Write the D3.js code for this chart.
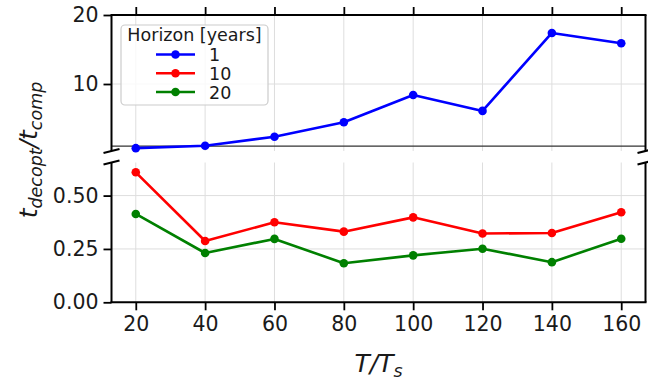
<!DOCTYPE html>
<html><head><meta charset="utf-8">
<script src="https://cdn.jsdelivr.net/npm/d3@7"></script>
<style>
html,body{margin:0;padding:0;background:#fff;}
svg{display:block;font-family:"DejaVu Sans",sans-serif;}
</style></head>
<body><svg id="c" width="648" height="385"></svg>
<script>
const categories = [20, 40, 60, 80, 100, 120, 140, 160];
const horizon1 = [0.7, 1.05, 2.35, 4.45, 8.4, 6.1, 17.4, 15.9];
const horizon10 = [0.609, 0.287, 0.375, 0.331, 0.398, 0.322, 0.325, 0.422];
const horizon20 = [0.414, 0.231, 0.297, 0.183, 0.220, 0.251, 0.188, 0.298];
const seriesNames = ["1", "10", "20"];
const seriesColors = ["#0000ff", "#ff0000", "#008000"];
const topTicks = [10, 20];
const bottomTicks = [0, 0.25, 0.5];
const xTicks = [20, 40, 60, 80, 100, 120, 140, 160];

const svg = d3.select("#c");
const L = 111.5, R = 645.5;
const topY0 = 15, topY1 = 151;
const botY0 = 162.5, botY1 = 302.3;

const x = d3.scaleLinear().domain([13, 167]).range([L, R]);
const yTop = d3.scaleLinear().domain([0.29, 20]).range([topY1, topY0]);
const yBot = d3.scaleLinear().domain([0, 0.655]).range([botY1, botY0]);

const gridColor = "#dedede";
const tickLen = 8;
const fs = 20.5;

// clip paths
const defs = svg.append("defs");
defs.append("clipPath").attr("id", "clipTop").append("rect")
  .attr("x", L).attr("y", topY0).attr("width", R - L).attr("height", topY1 - topY0);
defs.append("clipPath").attr("id", "clipBot").append("rect")
  .attr("x", L).attr("y", botY0).attr("width", R - L).attr("height", botY1 - botY0);

function panel(y, y0, y1, ticks, fmt, clip, showXLabels, showTopTicks) {
  const g = svg.append("g");
  // grid
  g.append("g").selectAll("line").data(xTicks).join("line")
    .attr("x1", d => x(d)).attr("x2", d => x(d)).attr("y1", y0).attr("y2", y1)
    .attr("stroke", gridColor).attr("stroke-width", 1);
  g.append("g").selectAll("line").data(ticks).join("line")
    .attr("x1", L).attr("x2", R).attr("y1", d => y(d)).attr("y2", d => y(d))
    .attr("stroke", gridColor).attr("stroke-width", 1);
  // y axis
  const ya = d3.axisLeft(y).tickValues(ticks).tickFormat(fmt).tickSize(tickLen).tickPadding(5);
  const yg = g.append("g").attr("transform", `translate(${L},0)`).call(ya);
  yg.select(".domain").remove();
  yg.selectAll(".tick line").attr("stroke", "#000").attr("stroke-width", 1.8);
  yg.selectAll(".tick text").attr("font-size", fs).attr("fill", "#1a1a1a").attr("font-family", "DejaVu Sans");
  // x axis
  if (showXLabels) {
    const xa = d3.axisBottom(x).tickValues(xTicks).tickFormat(d3.format("d")).tickSize(tickLen).tickPadding(6);
    const xg = g.append("g").attr("transform", `translate(0,${y1})`).call(xa);
    xg.select(".domain").remove();
    xg.selectAll(".tick line").attr("stroke", "#000").attr("stroke-width", 1.8);
    xg.selectAll(".tick text").attr("font-size", fs).attr("fill", "#1a1a1a").attr("font-family", "DejaVu Sans");
  }
  if (showTopTicks) {
    const xa = d3.axisTop(x).tickValues(xTicks).tickFormat("").tickSize(tickLen);
    const xg = g.append("g").attr("transform", `translate(0,${y0})`).call(xa);
    xg.select(".domain").remove();
    xg.selectAll(".tick line").attr("stroke", "#000").attr("stroke-width", 1.8);
  }
  return g;
}

const gTop = panel(yTop, topY0, topY1, topTicks, d3.format("d"), "clipTop", false, true);
const gBot = panel(yBot, botY0, botY1, bottomTicks, d3.format(".2f"), "clipBot", true, false);

// reference line at 1 in top panel
svg.append("line").attr("x1", L).attr("x2", R).attr("y1", yTop(1)).attr("y2", yTop(1))
  .attr("stroke", "#333").attr("stroke-width", 1.3);

function drawSeries(vals, y, color) {
  const line = d3.line().x((d, i) => x(categories[i])).y(d => y(d));
  svg.append("path").datum(vals).attr("d", line)
    .attr("fill", "none").attr("stroke", color).attr("stroke-width", 2.6)
    .attr("stroke-linejoin", "round");
  svg.append("g").selectAll("circle").data(vals).join("circle")
    .attr("cx", (d, i) => x(categories[i])).attr("cy", d => y(d))
    .attr("r", 4.3).attr("fill", color);
}
drawSeries(horizon1, yTop, seriesColors[0]);
drawSeries(horizon10, yBot, seriesColors[1]);
drawSeries(horizon20, yBot, seriesColors[2]);

// spines
const sp = svg.append("g").attr("stroke", "#000").attr("stroke-width", 2).attr("fill", "none");
sp.append("line").attr("x1", L).attr("x2", R).attr("y1", topY0).attr("y2", topY0).attr("stroke-linecap", "square");
sp.append("line").attr("x1", L).attr("x2", L).attr("y1", topY0).attr("y2", topY1);
sp.append("line").attr("x1", R).attr("x2", R).attr("y1", topY0).attr("y2", topY1);
sp.append("line").attr("x1", L).attr("x2", R).attr("y1", botY1).attr("y2", botY1).attr("stroke-linecap", "square");
sp.append("line").attr("x1", L).attr("x2", L).attr("y1", botY0).attr("y2", botY1);
sp.append("line").attr("x1", R).attr("x2", R).attr("y1", botY0).attr("y2", botY1);

// break marks
const dx = 8, dyT = 2, dyB = 2;
[[L, topY1, dyT], [R, topY1, dyT], [L, botY0, dyB], [R, botY0, dyB]].forEach(([cx, cy, dy]) => {
  sp.append("line").attr("x1", cx - dx).attr("y1", cy + dy).attr("x2", cx + dx).attr("y2", cy - dy)
    .attr("stroke-width", 2.2);
});

// legend
const lg = svg.append("g");
lg.append("rect").attr("x", 121).attr("y", 25).attr("width", 147).attr("height", 80).attr("rx", 4)
  .attr("fill", "#fff").attr("fill-opacity", 0.8).attr("stroke", "#cccccc").attr("stroke-width", 1.2);
lg.append("text").attr("x", 194.5).attr("y", 41).attr("text-anchor", "middle")
  .attr("font-size", 17.5).attr("fill", "#1a1a1a").text("Horizon [years]");
const rowY = [54.5, 73.3, 92];
seriesNames.forEach((n, i) => {
  lg.append("line").attr("x1", 156).attr("x2", 195).attr("y1", rowY[i]).attr("y2", rowY[i])
    .attr("stroke", seriesColors[i]).attr("stroke-width", 2.6);
  lg.append("circle").attr("cx", 175.5).attr("cy", rowY[i]).attr("r", 4.3).attr("fill", seriesColors[i]);
  lg.append("text").attr("x", 209).attr("y", rowY[i] + 6.5).attr("font-size", 17.5).attr("fill", "#1a1a1a").text(n);
});

// x label
const xl = svg.append("text").attr("x", 378.5).attr("y", 372).attr("text-anchor", "middle")
  .attr("font-size", 25).attr("fill", "#1a1a1a").attr("font-style", "italic");
xl.append("tspan").text("T/T");
xl.append("tspan").attr("font-size", 17.5).attr("dy", 5).text("s");

// y label
const yl = svg.append("text").attr("transform", "translate(37,150) rotate(-90)").attr("text-anchor", "middle")
  .attr("font-size", 25).attr("fill", "#1a1a1a").attr("font-style", "italic");
yl.append("tspan").text("t");
yl.append("tspan").attr("font-size", 17.5).attr("dy", 5).text("decopt");
yl.append("tspan").attr("dy", -5).text("/t");
yl.append("tspan").attr("font-size", 17.5).attr("dy", 5).text("comp");
</script></body></html>
